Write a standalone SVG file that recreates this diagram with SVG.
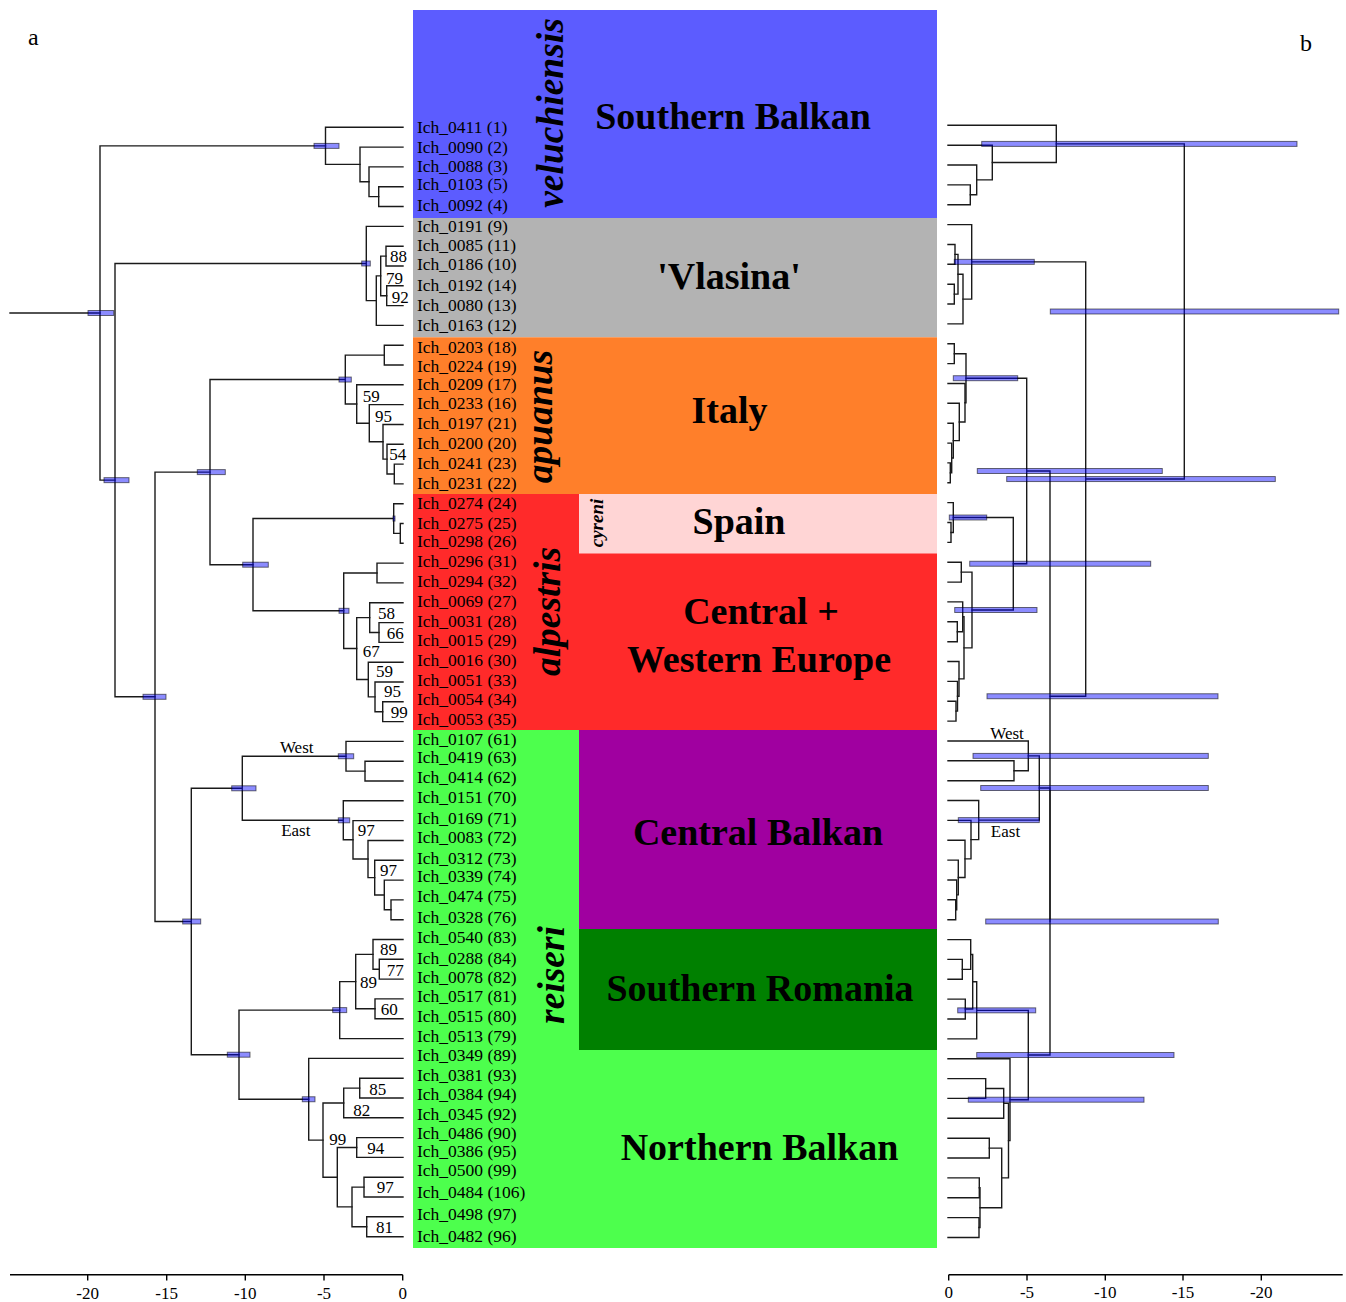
<svg xmlns="http://www.w3.org/2000/svg" width="1346" height="1302" viewBox="0 0 1346 1302">
<style>
.br{fill:none;stroke:#1a1a1a;stroke-width:1.4;stroke-linecap:square}
.bar{fill:#0000ff;fill-opacity:0.45;stroke:#000;stroke-opacity:0.55;stroke-width:1}
.tip{font-family:"Liberation Serif",serif;font-size:17.5px;fill:#000}
.bs{font-family:"Liberation Serif",serif;font-size:17px;fill:#000}
.ew{font-family:"Liberation Serif",serif;font-size:17px;fill:#000;text-anchor:middle}
.big{font-family:"Liberation Serif",serif;font-weight:bold;font-size:38px;text-anchor:middle;fill:#000}
.sp{font-family:"Liberation Serif",serif;font-weight:bold;font-style:italic;font-size:37.5px;text-anchor:middle;fill:#000}
.ax{font-family:"Liberation Serif",serif;font-size:17px;text-anchor:middle;fill:#000}
.axl{fill:none;stroke:#000;stroke-width:1.4}
.pl{font-family:"Liberation Serif",serif;font-size:24px;fill:#000}
</style>
<rect width="1346" height="1302" fill="#fff"/>
<g id="backgrounds">
<rect x="413" y="10" width="524" height="208" fill="#5c5cff"/>
<rect x="413" y="218" width="524" height="119.3" fill="#b3b3b3"/>
<rect x="413" y="337.3" width="524" height="156.7" fill="#ff7f2a"/>
<rect x="413" y="494" width="524" height="236" fill="#ff2a2a"/>
<rect x="579" y="494" width="358" height="59.5" fill="#ffd5d5"/>
<rect x="413" y="730" width="524" height="518" fill="#4dff4d"/>
<rect x="579" y="730" width="358" height="199" fill="#a000a0"/>
<rect x="579" y="929" width="358" height="121" fill="#008000"/>
</g>
<g id="region-labels">
<text class="big" x="733" y="129">Southern Balkan</text>
<text class="big" x="729" y="289">'Vlasina'</text>
<text class="big" x="729.5" y="422.7">Italy</text>
<text class="big" x="739" y="534">Spain</text>
<text class="big" x="761" y="624">Central +</text>
<text class="big" x="759" y="672">Western Europe</text>
<text class="big" x="758" y="845">Central Balkan</text>
<text class="big" x="760" y="1001">Southern Romania</text>
<text class="big" x="759.5" y="1160">Northern Balkan</text>
</g>
<g id="species-labels">
<text class="sp" transform="translate(563,113) rotate(-90)">veluchiensis</text>
<text class="sp" transform="translate(552,416.5) rotate(-90)">apuanus</text>
<text class="sp" transform="translate(560,611.5) rotate(-90)">alpestris</text>
<text class="sp" transform="translate(564,975) rotate(-90)">reiseri</text>
<text class="sp" style="font-size:19px" transform="translate(603,523) rotate(-90)">cyreni</text>
</g>
<g id="connectors">
<path class="br" d="M10 313 H100"/>
<path class="br" d="M325.5 145.9 H100 V480.15 H115"/>
<path class="br" d="M403 127.3 H325.5 V164.4 H360"/>
<path class="br" d="M403 147.1 H360 V181.75 H369"/>
<path class="br" d="M403 166.9 H369 V196.6 H378.7"/>
<path class="br" d="M403 186.7 H378.7 V206.5 H403"/>
<path class="br" d="M366.3 263.5 H115 V696.8 H155"/>
<path class="br" d="M403 226.4 H366.3 V300.65 H376.3"/>
<path class="br" d="M380.7 275.9 H376.3 V325.4 H403"/>
<path class="br" d="M386 256.1 H380.7 V295.7 H386.7"/>
<path class="br" d="M403 246.2 H386 V266 H403"/>
<path class="br" d="M403 285.8 H386.7 V305.6 H403"/>
<path class="br" d="M210 472.1 H155 V921.5 H191.3"/>
<path class="br" d="M345.3 379.55 H210 V564.7 H253"/>
<path class="br" d="M384.3 355.1 H345.3 V404 H356.7"/>
<path class="br" d="M403 345.2 H384.3 V365 H403"/>
<path class="br" d="M403 384.8 H356.7 V423.2 H369.3"/>
<path class="br" d="M403 404.6 H369.3 V441.8 H383"/>
<path class="br" d="M403 424.5 H383 V459.15 H387"/>
<path class="br" d="M403 444.3 H387 V474 H394.3"/>
<path class="br" d="M403 464.1 H394.3 V483.9 H403"/>
<path class="br" d="M393.7 518.55 H253 V610.8 H343.7"/>
<path class="br" d="M403 503.7 H393.7 V533.4 H400.3"/>
<path class="br" d="M403 523.5 H400.3 V543.3 H403"/>
<path class="br" d="M377 573 H343.7 V648.55 H356.7"/>
<path class="br" d="M403 563.1 H377 V582.9 H403"/>
<path class="br" d="M369.7 617.6 H356.7 V679.5 H368.3"/>
<path class="br" d="M403 602.7 H369.7 V632.5 H379"/>
<path class="br" d="M403 622.6 H379 V642.4 H403"/>
<path class="br" d="M403 662.2 H368.3 V696.85 H375"/>
<path class="br" d="M403 682 H375 V711.7 H382.7"/>
<path class="br" d="M403 701.8 H382.7 V721.6 H403"/>
<path class="br" d="M242.3 788.3 H191.3 V1054.7 H239"/>
<path class="br" d="M346 756.25 H242.3 V820.3 H343.3"/>
<path class="br" d="M403 741.4 H346 V771.1 H365"/>
<path class="br" d="M403 761.2 H365 V781 H403"/>
<path class="br" d="M403 800.8 H343.3 V839.8 H353"/>
<path class="br" d="M403 820.6 H353 V859.05 H368"/>
<path class="br" d="M403 840.5 H368 V877.6 H374.7"/>
<path class="br" d="M403 860.3 H374.7 V894.95 H384.3"/>
<path class="br" d="M403 880.1 H384.3 V909.8 H391"/>
<path class="br" d="M403 899.9 H391 V919.7 H403"/>
<path class="br" d="M339.7 1010.1 H239 V1099.25 H308.7"/>
<path class="br" d="M355.7 981.6 H339.7 V1038.6 H403"/>
<path class="br" d="M373 954.35 H355.7 V1008.8 H375"/>
<path class="br" d="M403 939.5 H373 V969.2 H379.3"/>
<path class="br" d="M403 959.3 H379.3 V979.1 H403"/>
<path class="br" d="M403 998.9 H375 V1018.7 H403"/>
<path class="br" d="M403 1058.4 H308.7 V1140.1 H323"/>
<path class="br" d="M343.7 1102.95 H323 V1177.2 H337.3"/>
<path class="br" d="M359.7 1088.1 H343.7 V1117.8 H403"/>
<path class="br" d="M403 1078.2 H359.7 V1098 H403"/>
<path class="br" d="M356.7 1147.5 H337.3 V1206.9 H352"/>
<path class="br" d="M403 1137.6 H356.7 V1157.4 H403"/>
<path class="br" d="M364 1187.1 H352 V1226.75 H366.7"/>
<path class="br" d="M403 1177.2 H364 V1197 H403"/>
<path class="br" d="M403 1216.8 H366.7 V1236.7 H403"/>
<path class="br" d="M1056.3 143.9 H1184.3 V479.05 H1085.7"/>
<path class="br" d="M948 125.3 H1056.3 V162.55 H992.3"/>
<path class="br" d="M948 145.2 H992.3 V179.9 H976.7"/>
<path class="br" d="M948 165 H976.7 V194.8 H970.3"/>
<path class="br" d="M948 184.9 H970.3 V204.7 H948"/>
<path class="br" d="M971.7 261.85 H1085.7 V696.25 H1050"/>
<path class="br" d="M948 224.6 H971.7 V299.1 H963"/>
<path class="br" d="M958 274.25 H963 V323.9 H948"/>
<path class="br" d="M955 254.4 H958 V294.1 H954.3"/>
<path class="br" d="M948 244.5 H955 V264.3 H948"/>
<path class="br" d="M948 284.2 H954.3 V304 H948"/>
<path class="br" d="M1026.7 471 H1050 V921.5"/>
<path class="br" d="M966 378.2 H1026.7 V563.75 H1013.3"/>
<path class="br" d="M954.3 353.7 H966 V402.7 H965"/>
<path class="br" d="M948 343.8 H954.3 V363.6 H948"/>
<path class="br" d="M948 383.5 H965 V421.95 H959.3"/>
<path class="br" d="M948 403.3 H959.3 V440.6 H953.3"/>
<path class="br" d="M948 423.2 H953.3 V457.98 H951.7"/>
<path class="br" d="M948 443.1 H951.7 V472.85 H950.3"/>
<path class="br" d="M948 462.9 H950.3 V482.8 H948"/>
<path class="br" d="M953.3 517.5 H1013.3 V610 H972"/>
<path class="br" d="M948 502.6 H953.3 V532.45 H951"/>
<path class="br" d="M948 522.5 H951 V542.4 H948"/>
<path class="br" d="M961.3 572.15 H972 V647.85 H964"/>
<path class="br" d="M948 562.2 H961.3 V582.1 H948"/>
<path class="br" d="M962.7 616.8 H964 V678.9 H959"/>
<path class="br" d="M948 601.9 H962.7 V631.75 H957.3"/>
<path class="br" d="M948 621.8 H957.3 V641.7 H948"/>
<path class="br" d="M948 661.5 H959 V696.3 H957.5"/>
<path class="br" d="M948 681.4 H957.5 V711.15 H956"/>
<path class="br" d="M948 701.2 H956 V721.1 H948"/>
<path class="br" d="M1039.3 788 H1050 V1055 H1028.3"/>
<path class="br" d="M1028.3 755.9 H1039.3 V820.1 H978.7"/>
<path class="br" d="M948 741 H1028.3 V770.75 H1014"/>
<path class="br" d="M948 760.8 H1014 V780.7 H948"/>
<path class="br" d="M948 800.5 H978.7 V839.65 H971"/>
<path class="br" d="M948 820.4 H971 V858.9 H965"/>
<path class="br" d="M948 840.3 H965 V877.5 H958.3"/>
<path class="br" d="M948 860.1 H958.3 V894.9 H956.7"/>
<path class="br" d="M948 880 H956.7 V909.75 H955.7"/>
<path class="br" d="M948 899.8 H955.7 V919.7 H948"/>
<path class="br" d="M976.7 1010.35 H1028.3 V1099.7 H1010"/>
<path class="br" d="M972.7 981.8 H976.7 V1038.9 H948"/>
<path class="br" d="M970.7 954.5 H972.7 V1009.05 H965.3"/>
<path class="br" d="M948 939.6 H970.7 V969.35 H962.3"/>
<path class="br" d="M948 959.4 H962.3 V979.3 H948"/>
<path class="br" d="M948 999.1 H965.3 V1019 H948"/>
<path class="br" d="M948 1058.7 H1010 V1140.65 H1008.5"/>
<path class="br" d="M1003.7 1103.4 H1008.5 V1177.9 H1001.7"/>
<path class="br" d="M985.7 1088.5 H1003.7 V1118.3 H948"/>
<path class="br" d="M948 1078.6 H985.7 V1098.4 H948"/>
<path class="br" d="M989.3 1148.1 H1001.7 V1207.7 H980"/>
<path class="br" d="M948 1138.2 H989.3 V1158 H948"/>
<path class="br" d="M979.3 1187.8 H980 V1227.55 H979"/>
<path class="br" d="M948 1177.9 H979.3 V1197.7 H948"/>
<path class="br" d="M948 1217.6 H979 V1237.5 H948"/>
</g>
<g id="error-bars">
<rect class="bar" x="88" y="310.5" width="25.7" height="5"/>
<rect class="bar" x="314" y="143.4" width="25" height="5"/>
<rect class="bar" x="104" y="477.65" width="25" height="5"/>
<rect class="bar" x="361.7" y="261" width="8.6" height="5"/>
<rect class="bar" x="143" y="694.3" width="23" height="5"/>
<rect class="bar" x="197.3" y="469.6" width="28" height="5"/>
<rect class="bar" x="339" y="377.05" width="12.3" height="5"/>
<rect class="bar" x="242.7" y="562.2" width="25.6" height="5"/>
<rect class="bar" x="393" y="516.05" width="2" height="5"/>
<rect class="bar" x="339" y="608.3" width="10" height="5"/>
<rect class="bar" x="182.7" y="919" width="18" height="5"/>
<rect class="bar" x="231.7" y="785.8" width="24.3" height="5"/>
<rect class="bar" x="338.3" y="753.75" width="15.4" height="5"/>
<rect class="bar" x="338.3" y="817.8" width="11.4" height="5"/>
<rect class="bar" x="227.3" y="1052.2" width="22.7" height="5"/>
<rect class="bar" x="332.7" y="1007.6" width="14" height="5"/>
<rect class="bar" x="302.3" y="1096.75" width="12.7" height="5"/>
<rect class="bar" x="981.7" y="141.4" width="315.3" height="5"/>
<rect class="bar" x="954.3" y="259.35" width="80" height="5"/>
<rect class="bar" x="1050.3" y="309" width="288.4" height="5"/>
<rect class="bar" x="953.3" y="375.7" width="64.4" height="5"/>
<rect class="bar" x="977.3" y="468.5" width="185" height="5"/>
<rect class="bar" x="1006.7" y="476.55" width="268.6" height="5"/>
<rect class="bar" x="949.3" y="515" width="37.4" height="5"/>
<rect class="bar" x="969.7" y="561.25" width="181" height="5"/>
<rect class="bar" x="954.7" y="607.5" width="82.3" height="5"/>
<rect class="bar" x="987" y="693.75" width="231" height="5"/>
<rect class="bar" x="973" y="753.4" width="235.3" height="5"/>
<rect class="bar" x="980.7" y="785.5" width="227.6" height="5"/>
<rect class="bar" x="958.3" y="817.6" width="81" height="5"/>
<rect class="bar" x="985.7" y="919" width="232.6" height="5"/>
<rect class="bar" x="957.7" y="1007.85" width="78" height="5"/>
<rect class="bar" x="976.7" y="1052.5" width="197.3" height="5"/>
<rect class="bar" x="968.3" y="1097.2" width="175.7" height="5"/>
</g>
<g id="support-values">
<text class="bs" x="390" y="261.7">88</text>
<text class="bs" x="386" y="284">79</text>
<text class="bs" x="391.7" y="303.3">92</text>
<text class="bs" x="362.7" y="401.7">59</text>
<text class="bs" x="375" y="421.7">95</text>
<text class="bs" x="389.3" y="460">54</text>
<text class="bs" x="378" y="619.3">58</text>
<text class="bs" x="386.7" y="639.3">66</text>
<text class="bs" x="362.7" y="656.7">67</text>
<text class="bs" x="376" y="677.3">59</text>
<text class="bs" x="384" y="696.7">95</text>
<text class="bs" x="390.7" y="718.3">99</text>
<text class="bs" x="357.7" y="836">97</text>
<text class="bs" x="380" y="876">97</text>
<text class="bs" x="380" y="955">89</text>
<text class="bs" x="386.7" y="976">77</text>
<text class="bs" x="360" y="987.7">89</text>
<text class="bs" x="380.7" y="1015">60</text>
<text class="bs" x="369.3" y="1095">85</text>
<text class="bs" x="353.3" y="1116">82</text>
<text class="bs" x="329.3" y="1145">99</text>
<text class="bs" x="367.3" y="1154">94</text>
<text class="bs" x="376.7" y="1193.3">97</text>
<text class="bs" x="376" y="1233">81</text>
<text class="ew" x="296.7" y="752.7">West</text>
<text class="ew" x="295.8" y="836">East</text>
<text class="ew" x="1007" y="739.3">West</text>
<text class="ew" x="1005.5" y="836.7">East</text>
</g>
<g id="tips">
<g id="t0"><text class="tip" x="417" y="132.5">Ich_0411 (1)</text></g>
<g id="t1"><text class="tip" x="417" y="152.5">Ich_0090 (2)</text></g>
<g id="t2"><text class="tip" x="417" y="171.5">Ich_0088 (3)</text></g>
<g id="t3"><text class="tip" x="417" y="189.5">Ich_0103 (5)</text></g>
<g id="t4"><text class="tip" x="417" y="210.5">Ich_0092 (4)</text></g>
<g id="t5"><text class="tip" x="417" y="231.5">Ich_0191 (9)</text></g>
<g id="t6"><text class="tip" x="417" y="250.5">Ich_0085 (11)</text></g>
<g id="t7"><text class="tip" x="417" y="269.5">Ich_0186 (10)</text></g>
<g id="t8"><text class="tip" x="417" y="290.5">Ich_0192 (14)</text></g>
<g id="t9"><text class="tip" x="417" y="310.5">Ich_0080 (13)</text></g>
<g id="t10"><text class="tip" x="417" y="330.5">Ich_0163 (12)</text></g>
<g id="t11"><text class="tip" x="417" y="352.5">Ich_0203 (18)</text></g>
<g id="t12"><text class="tip" x="417" y="371.5">Ich_0224 (19)</text></g>
<g id="t13"><text class="tip" x="417" y="389.5">Ich_0209 (17)</text></g>
<g id="t14"><text class="tip" x="417" y="408.5">Ich_0233 (16)</text></g>
<g id="t15"><text class="tip" x="417" y="428.5">Ich_0197 (21)</text></g>
<g id="t16"><text class="tip" x="417" y="448.5">Ich_0200 (20)</text></g>
<g id="t17"><text class="tip" x="417" y="468.5">Ich_0241 (23)</text></g>
<g id="t18"><text class="tip" x="417" y="488.5">Ich_0231 (22)</text></g>
<g id="t19"><text class="tip" x="417" y="508.5">Ich_0274 (24)</text></g>
<g id="t20"><text class="tip" x="417" y="528.5">Ich_0275 (25)</text></g>
<g id="t21"><text class="tip" x="417" y="546.5">Ich_0298 (26)</text></g>
<g id="t22"><text class="tip" x="417" y="566.5">Ich_0296 (31)</text></g>
<g id="t23"><text class="tip" x="417" y="586.5">Ich_0294 (32)</text></g>
<g id="t24"><text class="tip" x="417" y="606.5">Ich_0069 (27)</text></g>
<g id="t25"><text class="tip" x="417" y="626.5">Ich_0031 (28)</text></g>
<g id="t26"><text class="tip" x="417" y="645.5">Ich_0015 (29)</text></g>
<g id="t27"><text class="tip" x="417" y="665.5">Ich_0016 (30)</text></g>
<g id="t28"><text class="tip" x="417" y="685.5">Ich_0051 (33)</text></g>
<g id="t29"><text class="tip" x="417" y="704.5">Ich_0054 (34)</text></g>
<g id="t30"><text class="tip" x="417" y="724.5">Ich_0053 (35)</text></g>
<g id="t31"><text class="tip" x="417" y="744.5">Ich_0107 (61)</text></g>
<g id="t32"><text class="tip" x="417" y="762.5">Ich_0419 (63)</text></g>
<g id="t33"><text class="tip" x="417" y="782.5">Ich_0414 (62)</text></g>
<g id="t34"><text class="tip" x="417" y="802.5">Ich_0151 (70)</text></g>
<g id="t35"><text class="tip" x="417" y="823.5">Ich_0169 (71)</text></g>
<g id="t36"><text class="tip" x="417" y="842.5">Ich_0083 (72)</text></g>
<g id="t37"><text class="tip" x="417" y="863.5">Ich_0312 (73)</text></g>
<g id="t38"><text class="tip" x="417" y="881.5">Ich_0339 (74)</text></g>
<g id="t39"><text class="tip" x="417" y="901.5">Ich_0474 (75)</text></g>
<g id="t40"><text class="tip" x="417" y="922.5">Ich_0328 (76)</text></g>
<g id="t41"><text class="tip" x="417" y="942.5">Ich_0540 (83)</text></g>
<g id="t42"><text class="tip" x="417" y="963.5">Ich_0288 (84)</text></g>
<g id="t43"><text class="tip" x="417" y="982.5">Ich_0078 (82)</text></g>
<g id="t44"><text class="tip" x="417" y="1001.5">Ich_0517 (81)</text></g>
<g id="t45"><text class="tip" x="417" y="1021.5">Ich_0515 (80)</text></g>
<g id="t46"><text class="tip" x="417" y="1041.5">Ich_0513 (79)</text></g>
<g id="t47"><text class="tip" x="417" y="1060.5">Ich_0349 (89)</text></g>
<g id="t48"><text class="tip" x="417" y="1080.5">Ich_0381 (93)</text></g>
<g id="t49"><text class="tip" x="417" y="1099.5">Ich_0384 (94)</text></g>
<g id="t50"><text class="tip" x="417" y="1119.5">Ich_0345 (92)</text></g>
<g id="t51"><text class="tip" x="417" y="1138.5">Ich_0486 (90)</text></g>
<g id="t52"><text class="tip" x="417" y="1156.5">Ich_0386 (95)</text></g>
<g id="t53"><text class="tip" x="417" y="1175.5">Ich_0500 (99)</text></g>
<g id="t54"><text class="tip" x="417" y="1197.5">Ich_0484 (106)</text></g>
<g id="t55"><text class="tip" x="417" y="1219.5">Ich_0498 (97)</text></g>
<g id="t56"><text class="tip" x="417" y="1241.5">Ich_0482 (96)</text></g>
</g>
<g id="axis-left">
<path class="axl" d="M10 1274.7 H402.7 M87.7 1274.7 V1280.5 M166.7 1274.7 V1280.5 M245.3 1274.7 V1280.5 M324 1274.7 V1280.5 M402.7 1274.7 V1280.5"/>
<text class="ax" x="87.7" y="1298.5">-20</text>
<text class="ax" x="166.7" y="1298.5">-15</text>
<text class="ax" x="245.3" y="1298.5">-10</text>
<text class="ax" x="324" y="1298.5">-5</text>
<text class="ax" x="402.7" y="1298.5">0</text>
</g>
<g id="axis-right">
<path class="axl" d="M948.7 1274.7 H1342.7 M948.7 1274.7 V1280.5 M1027 1274.7 V1280.5 M1105.3 1274.7 V1280.5 M1183 1274.7 V1280.5 M1261.3 1274.7 V1280.5"/>
<text class="ax" x="948.7" y="1298">0</text>
<text class="ax" x="1027" y="1298">-5</text>
<text class="ax" x="1105.3" y="1298">-10</text>
<text class="ax" x="1183" y="1298">-15</text>
<text class="ax" x="1261.3" y="1298">-20</text>
</g>
<g id="panel-labels">
<text class="pl" x="28" y="45">a</text>
<text class="pl" x="1300" y="51">b</text>
</g>
</svg>
